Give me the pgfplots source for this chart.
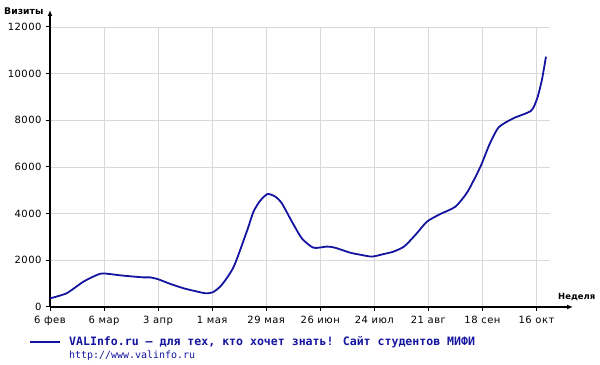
\documentclass[border=0pt]{standalone}
\usepackage{fontspec}
\setmainfont{DejaVu Sans}
\newfontfamily\monofnt{DejaVu Sans Mono}
\newfontfamily\tickfnt[LetterSpace=5]{DejaVu Sans}
\usepackage{pgfplots}
\pgfplotsset{compat=1.18}
\usetikzlibrary{arrows.meta}
\definecolor{lineblue}{RGB}{20,20,160}
\definecolor{gridgray}{RGB}{216,216,216}
\begin{document}
\begin{tikzpicture}
\path[use as bounding box] (0,0) rectangle (600bp,365bp);
\begin{axis}[
  at={(50bp,58bp)}, anchor=south west,
  scale only axis, width=500bp, height=280bp,
  xmin=0, xmax=37, ymin=0, ymax=12000,
  axis x line=bottom, axis y line=left,
  x axis line style={-{Latex[length=6bp,width=5bp]}, shorten >=-23bp, line width=1.6bp},
  y axis line style={-{Latex[length=6bp,width=5bp]}, shorten >=-17bp, line width=1.6bp},
  xtick={0,4,...,36},
  xticklabels={6 фев, 6 мар, 3 апр, 1 мая, 29 мая, 26 июн, 24 июл, 21 авг, 18 сен, 16 окт},
  ytick={0,2000,...,12000},
  scaled y ticks=false,
  /pgf/number format/.cd, 1000 sep={}, assume math mode=true, /pgfplots/.cd,
  tick align=outside, major tick length=4bp,
  tick style={black, line width=1bp},
  grid=major, major grid style={gridgray, line width=0.8bp},
  tick label style={font=\tickfnt\fontsize{10}{11}\selectfont},
  xticklabel style={yshift=-2bp},
  yticklabel style={xshift=-1bp},
  clip=false,
]
\addplot[lineblue, line width=1.8bp, smooth, tension=0.4] coordinates {
(0,370) (1.23,590) (2.47,1085) (3.46,1370) (3.95,1440) (5.4,1345) (6.9,1270) (7.4,1270)
(8.0,1190) (8.9,990) (9.9,800) (10.9,660) (11.5,590) (12.05,630) (12.7,940) (13.6,1730)
(14.6,3300) (15.06,4090) (15.56,4560) (16.1,4840) (16.67,4730) (17.16,4440) (17.9,3660)
(18.64,2940) (19.5,2540) (20.5,2590) (21.1,2540) (22.2,2330) (22.96,2240) (23.83,2160)
(24.7,2270) (25.4,2370) (26.2,2590) (27.04,3090) (27.9,3660) (28.9,3990) (30.0,4300)
(30.9,4940) (31.85,6010) (32.5,6940) (33.2,7700) (34.3,8090) (35.6,8410) (36.05,8940)
(36.4,9730) (36.7,10730)
};
\end{axis}
\node[anchor=west, inner sep=0pt, font=\bfseries\fontsize{9.3}{10}\selectfont] at (4bp,354bp) {Визиты};
\node[anchor=west, inner sep=0pt, font=\bfseries\fontsize{8.5}{10}\selectfont] at (558bp,68bp) {Неделя};
\draw[lineblue, line width=1.8bp] (30bp,23bp) -- (60bp,23bp);
\node[anchor=west, inner sep=0pt, text=lineblue, font=\monofnt\bfseries\fontsize{11.6}{12}\selectfont] at (69bp,23bp) {VALInfo.ru – для тех, кто хочет знать! Сайт студентов МИФИ};
\node[anchor=west, inner sep=0pt, text=lineblue, font=\monofnt\fontsize{10}{11}\selectfont] at (69bp,9bp) {http://www.valinfo.ru};
\end{tikzpicture}
\end{document}
